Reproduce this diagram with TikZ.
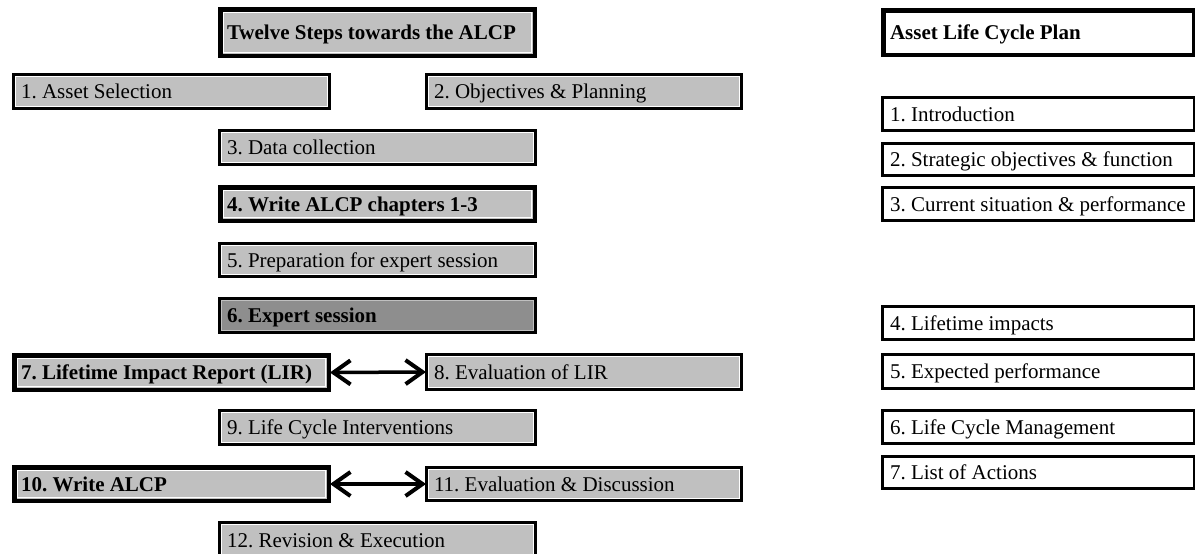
\documentclass[tikz,border=0pt]{standalone}
\usepackage{fontspec}
\setmainfont{Liberation Serif}
\usetikzlibrary{arrows.meta}
\frenchspacing
\definecolor{lgray}{HTML}{C0C0C0}
\definecolor{dgray}{HTML}{8E8E8E}
\newcommand{\bx}[8]{% name, style, lw, x1, y1, x2, y2, text
  \pgfmathsetmacro{\mybw}{#6-#4-#3}%
  \pgfmathsetmacro{\mybh}{#7-#5-#3}%
  \pgfmathsetmacro{\myxs}{9-#3/2}%
  \pgfmathsetmacro{\mytw}{\mybw-2*\myxs}%
  \pgfmathsetmacro{\mycx}{(#4+#6)/2}%
  \pgfmathsetmacro{\mycy}{(#5+#7)/2}%
  \node[#2, line width=#3pt, minimum width=\mybw pt, minimum height=\mybh pt,
        inner xsep=\myxs pt] (#1) at (\mycx,\mycy) {\makebox[\mytw pt][l]{#8}};%
}
\tikzset{
  base/.style={draw=black, rectangle, inner ysep=0pt,
    text height=14pt, text depth=0pt,
    font=\fontsize{21}{25}\selectfont},
  gbox/.style={base, fill=lgray,
    path picture={\draw[white, line width=1pt]
      ([shift={(2.2pt,-2.2pt)}]path picture bounding box.north west) rectangle
      ([shift={(-2.2pt,2.2pt)}]path picture bounding box.south east);}},
  gboxthick/.style={base, fill=lgray, font=\fontsize{21}{25}\selectfont\bfseries,
    path picture={\draw[white, line width=1pt]
      ([shift={(2.9pt,-2.9pt)}]path picture bounding box.north west) rectangle
      ([shift={(-2.9pt,2.9pt)}]path picture bounding box.south east);}},
  dbox/.style={base, fill=dgray, font=\fontsize{21}{25}\selectfont\bfseries,
    path picture={\draw[lgray, line width=1pt]
      ([shift={(2.2pt,-2.2pt)}]path picture bounding box.north west) rectangle
      ([shift={(-2.2pt,2.2pt)}]path picture bounding box.south east);}},
  wbox/.style={base, fill=white},
  wboxthick/.style={base, fill=white, font=\fontsize{21}{25}\selectfont\bfseries},
  dblarrow/.style={line width=3.5pt,
    {Straight Barb[length=17pt,width=24pt,line width=4pt]}-{Straight Barb[length=17pt,width=24pt,line width=4pt]},
    shorten <=-1pt, shorten >=-1pt}
}
\begin{document}
\begin{tikzpicture}[x=1pt,y=-1pt]
\useasboundingbox (0,0) rectangle (1195,554);
\fill[white] (0,0) rectangle (1195,554);
% left column
\bx{t}{gboxthick}{4.5}{218}{7}{537}{58}{Twelve Steps towards the ALCP}
\bx{s1}{gbox}{3}{12}{73}{331}{110}{1. Asset Selection}
\bx{s2}{gbox}{3}{425}{73}{743}{110}{2. Objectives \& Planning}
\bx{s3}{gbox}{3}{218}{129}{537}{166}{3. Data collection}
\bx{s4}{gboxthick}{4.5}{218}{185}{537}{223}{4. Write ALCP chapters 1-3}
\bx{s5}{gbox}{3}{218}{242}{537}{278}{5. Preparation for expert session}
\bx{s6}{dbox}{3}{218}{297}{537}{334}{6. Expert session}
\bx{s7}{gboxthick}{4.5}{12}{353}{331}{392}{7. Lifetime Impact Report (LIR)}
\bx{s8}{gbox}{3}{425}{353}{743}{391}{8. Evaluation of LIR}
\bx{s9}{gbox}{3}{218}{409}{537}{446}{9. Life Cycle Interventions}
\bx{s10}{gboxthick}{4.5}{12}{465}{331}{503}{10. Write ALCP}
\bx{s11}{gbox}{3}{425}{466}{743}{502}{11. Evaluation \& Discussion}
\bx{s12}{gbox}{3}{218}{521}{537}{559}{12. Revision \& Execution}
% right column
\bx{h}{wboxthick}{4.5}{881}{8}{1196}{57}{Asset Life Cycle Plan}
\bx{r1}{wbox}{3}{881}{96}{1196}{132}{1. Introduction}
\bx{r2}{wbox}{3}{881}{142}{1196}{177}{2. Strategic objectives \& function}
\bx{r3}{wbox}{3}{881}{186}{1196}{222}{3. Current situation \& performance}
\bx{r4}{wbox}{3}{881}{305}{1196}{341}{4. Lifetime impacts}
\bx{r5}{wbox}{3}{881}{353}{1196}{390}{5. Expected performance}
\bx{r6}{wbox}{3}{881}{409}{1196}{445}{6. Life Cycle Management}
\bx{r7}{wbox}{3}{881}{455}{1196}{490}{7. List of Actions}
% arrows
\draw[dblarrow] (s7.east) -- (s8.west);
\draw[dblarrow] (s10.east) -- (s11.west);
\end{tikzpicture}
\end{document}
